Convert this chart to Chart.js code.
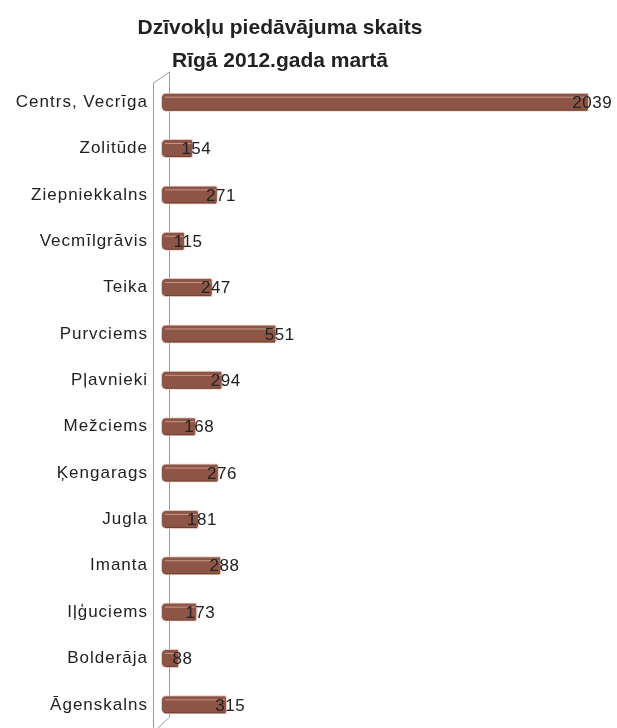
<!DOCTYPE html>
<html lang="lv">
<head>
    <meta charset="UTF-8">
    <title>Dzīvokļu piedāvājuma skaits</title>
    <script src="https://cdn.jsdelivr.net/npm/chart.js"></script>
    <style>
        body {
            margin: 0;
            background: white;
        }
        .chart-container {
            width: 617px;
            height: 728px;
        }
    </style>
</head>
<body>
    <div class="chart-container">
        <canvas id="offersChart" width="617" height="728"></canvas>
    </div>

    <script>
        // data, top to bottom as in the picture
        const districts = ['Centrs, Vecrīga', 'Zolitūde', 'Ziepniekkalns', 'Vecmīlgrāvis', 'Teika', 'Purvciems',
            'Pļavnieki', 'Mežciems', 'Ķengarags', 'Jugla', 'Imanta', 'Iļģuciems', 'Bolderāja', 'Āgenskalns'];
        const offers = [2039, 154, 271, 115, 247, 551, 294, 168, 276, 181, 288, 173, 88, 315];
        const titleLines = ['Dzīvokļu piedāvājuma skaits', 'Rīgā 2012.gada martā'];

        const barColor = '#8c5546';
        const fontFamily = '"Liberation Sans", Arial, sans-serif';

        // title, drawn a bit left of the canvas middle like the original
        const titlePlugin = {
            id: 'titleText',
            beforeDraw(chart) {
                // the original text is slightly spread out
                chart.ctx.letterSpacing = '1px';
            },
            beforeDatasetsDraw(chart) {
                chart.ctx.letterSpacing = '0px';
            },
            afterDraw(chart) {
                const ctx = chart.ctx;
                ctx.save();
                ctx.letterSpacing = '0px';
                ctx.fillStyle = '#222';
                ctx.font = 'bold 21px ' + fontFamily;
                ctx.textAlign = 'center';
                ctx.textBaseline = 'middle';
                ctx.fillText(titleLines[0], 280, 28);
                ctx.fillText(titleLines[1], 280, 61);
                ctx.restore();
            }
        };

        // the grey 3d wall at the left of the bars
        const wallPlugin = {
            id: 'wall',
            beforeDatasetsDraw(chart) {
                const ctx = chart.ctx;
                const a = chart.chartArea;
                const front = a.left - 8;
                const back = a.left + 8;
                ctx.save();
                ctx.strokeStyle = '#9a9a9a';
                ctx.lineWidth = 1;
                ctx.beginPath();
                ctx.moveTo(front + 0.5, chart.height);
                ctx.lineTo(front + 0.5, a.top + 4);
                ctx.lineTo(back + 0.5, a.top - 7);
                ctx.lineTo(back + 0.5, a.bottom - 11);
                ctx.lineTo(front + 5, a.bottom);
                ctx.stroke();
                ctx.restore();
            }
        };

        // highlight stripes on the bars and the value labels
        const barLabelPlugin = {
            id: 'barLabels',
            afterDatasetsDraw(chart) {
                const ctx = chart.ctx;
                const meta = chart.getDatasetMeta(0);
                ctx.save();
                meta.data.forEach((bar, i) => {
                    const top = bar.y - bar.height / 2;
                    const bottom = bar.y + bar.height / 2;
                    ctx.strokeStyle = 'rgba(230, 180, 165, 0.7)';
                    ctx.lineWidth = 1;
                    ctx.beginPath();
                    ctx.moveTo(bar.base + 4, top + 4.5);
                    ctx.lineTo(bar.x - 2, top + 4.5);
                    ctx.stroke();
                    ctx.strokeStyle = 'rgba(90, 50, 40, 0.6)';
                    ctx.beginPath();
                    ctx.moveTo(bar.base + 4, bottom - 1.5);
                    ctx.lineTo(bar.x - 2, bottom - 1.5);
                    ctx.stroke();
                    // small end cap
                    ctx.strokeStyle = '#f0dcd6';
                    ctx.beginPath();
                    ctx.ellipse(bar.x - 2, bar.y, 2, bar.height / 2, 0, -Math.PI / 2, Math.PI / 2);
                    ctx.stroke();

                    ctx.letterSpacing = '0.5px';
                    ctx.fillStyle = '#222';
                    ctx.font = '17px ' + fontFamily;
                    ctx.textAlign = 'center';
                    ctx.textBaseline = 'middle';
                    ctx.fillText(offers[i], bar.x + 3, bar.y + 1);
                });
                ctx.restore();
            }
        };

        const ctx = document.getElementById('offersChart').getContext('2d');
        new Chart(ctx, {
            type: 'bar',
            data: {
                labels: districts,
                datasets: [{
                    label: 'Piedāvājumu skaits',
                    data: offers,
                    backgroundColor: barColor,
                    borderColor: '#e9c9c0',
                    borderWidth: 1,
                    borderRadius: { topLeft: 5, bottomLeft: 5, topRight: 2, bottomRight: 2 },
                    borderSkipped: false,
                    categoryPercentage: 1,
                    barPercentage: 0.41
                }]
            },
            options: {
                indexAxis: 'y',
                responsive: false,
                animation: false,
                layout: {
                    padding: { top: 79, right: 15, bottom: 0, left: 0 }
                },
                plugins: {
                    legend: { display: false },
                    title: { display: false },
                    tooltip: { enabled: false }
                },
                scales: {
                    x: {
                        display: false,
                        min: 0,
                        max: 2100
                    },
                    y: {
                        afterFit(scale) {
                            scale.width = 161;
                            scale.paddingTop = 0;
                            scale.paddingBottom = 0;
                        },
                        grid: {
                            display: false,
                            drawTicks: false
                        },
                        border: { display: false },
                        ticks: {
                            color: '#222',
                            padding: 13,
                            font: {
                                size: 17,
                                family: fontFamily
                            }
                        }
                    }
                }
            },
            plugins: [titlePlugin, wallPlugin, barLabelPlugin]
        });
    </script>
</body>
</html>
